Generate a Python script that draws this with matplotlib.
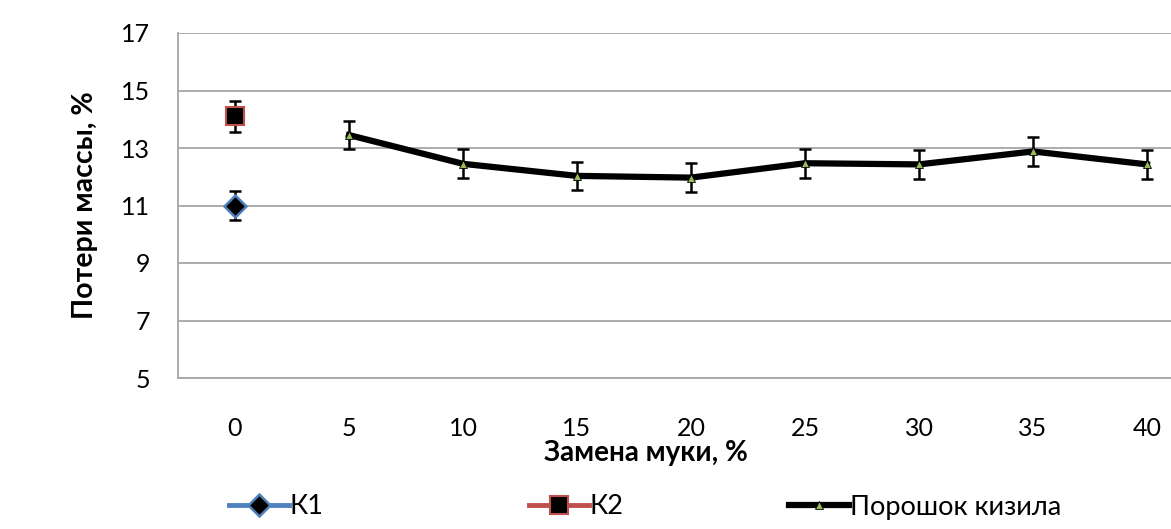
import matplotlib.pyplot as plt
import numpy as np

plt.rcParams['font.family'] = ['Lato', 'DejaVu Sans']

# Data
categories = ['0', '5', '10', '15', '20', '25', '30', '35', '40']
k1_value, k1_err = 11.0, 0.5
k2_value, k2_err = 14.1, 0.55
powder_values = [13.45, 12.45, 12.03, 11.97, 12.47, 12.43, 12.88, 12.43]
powder_err = [0.5, 0.5, 0.5, 0.5, 0.5, 0.5, 0.5, 0.5]

x = np.arange(len(categories))

fig = plt.figure(figsize=(11.71, 5.29), dpi=100)
ax = fig.add_axes([178 / 1171, 1 - 378 / 529, 1026 / 1171, 345 / 529])

err_kw = dict(ecolor='black', elinewidth=1.8, capsize=4.5, capthick=1.8)

# K1
ax.errorbar(x[0], k1_value, yerr=k1_err, fmt='none', zorder=3, **err_kw)
h1, = ax.plot(x[0], k1_value, color='#4F81BD', lw=3.5, marker='D', ms=11,
              mfc='black', mec='#4F81BD', mew=1.8, zorder=4, label='К1')
# K2
ax.errorbar(x[0], k2_value, yerr=k2_err, fmt='none', zorder=3, **err_kw)
h2, = ax.plot(x[0], k2_value, color='#C0504D', lw=3.5, marker='s', ms=12.5,
              mfc='black', mec='#C0504D', mew=1.5, zorder=4, label='К2')
# Powder series
ax.errorbar(x[1:], powder_values, yerr=powder_err, fmt='none', zorder=3, **err_kw)
h3, = ax.plot(x[1:], powder_values, color='black', lw=4.5, marker='^', ms=5.5,
              mfc='#9BBB59', mec='black', mew=0.6, zorder=4, label='Порошок кизила')

ax.set_xlim(-0.5, len(categories) - 0.5)
ax.set_ylim(5, 17)
ax.set_yticks(np.arange(5, 18, 2))
ax.set_xticks(x)
ax.set_xticklabels(categories)
ax.tick_params(length=0, labelsize=18)
ax.tick_params(axis='x', pad=28)
ax.tick_params(axis='y', pad=20)
ax.yaxis.grid(True, color='#A6A6A6', lw=1.3)
ax.set_axisbelow(True)
for s in ['top', 'right']:
    ax.spines[s].set_visible(False)
for s in ['left', 'bottom']:
    ax.spines[s].set_color('#A6A6A6')
    ax.spines[s].set_linewidth(1.3)

ax.set_xlabel('Замена муки, %', fontsize=20, fontweight='bold', va='center')
ax.xaxis.set_label_coords((646 - 178) / 1026, -(453 - 378) / 345)
ax.set_ylabel('Потери массы, %', fontsize=20.5, fontweight='bold', va='center')
ax.yaxis.set_label_coords(-(178 - 85) / 1026, 0.5)

# Legend entries placed individually
for h, xpos in [(h1, 229), (h2, 529), (h3, 789)]:
    fig.legend(handles=[h], loc='center left', bbox_to_anchor=(xpos / 1171, 1 - 507 / 529),
               frameon=False, fontsize=19.5, handlelength=2.2, handletextpad=0.05,
               borderpad=0, borderaxespad=0)

fig.savefig('out.png', dpi=100)
